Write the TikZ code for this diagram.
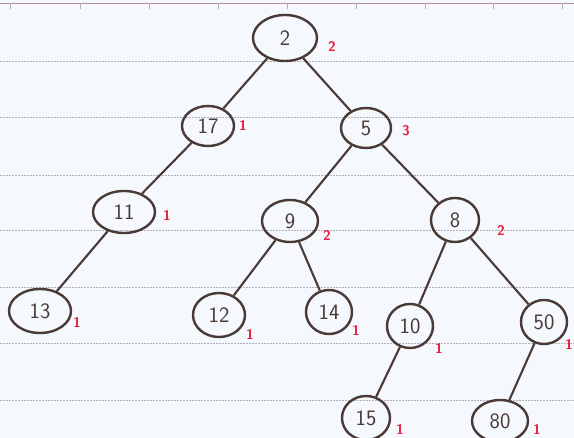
\documentclass[tikz,border=0pt]{standalone}
\usepackage{fontspec}
\usepackage{tikz}
\usetikzlibrary{shapes.geometric}
\definecolor{paper}{HTML}{F5F8FC}
\definecolor{rule}{HTML}{AEB2B8}
\definecolor{ink}{HTML}{4A3A36}
\definecolor{mark}{HTML}{E8203F}
\tikzset{
  vertex/.style={draw=ink,ellipse,line width=2.4pt,inner sep=0pt,text=ink,font=\fontsize{22}{25}\sffamily},
  count/.style={text=mark,font=\fontsize{14}{16}\sffamily\bfseries,inner sep=0pt},
  edge/.style={draw=ink,line width=2.1pt},
  ruling/.style={draw=rule,line width=0.6pt,dash pattern=on 2pt off 1pt}
}

\begin{document}
\begin{tikzpicture}[x=1pt,y=-1pt]
  \useasboundingbox (0,0) rectangle (574,438);
  \fill[paper] (0,0) rectangle (574,438);
  % ruled paper
  \draw[draw=rule!70!mark,line width=0.6pt] (0,3) -- (574,3);
  \foreach \x in {10,80,149,218,287,356,425,493,562}
    \draw[rule,line width=0.6pt] (\x,3) -- (\x,9);
  \foreach \y in {61,117,175,230,287,343,400}
    \draw[ruling] (0,\y) -- (574,\y);

  % tree nodes
  \node[vertex,minimum width=64pt,minimum height=46pt] (n2) at (285,38) {2};
  \node[vertex,minimum width=52pt,minimum height=40pt] (n17) at (208,126) {17};
  \node[vertex,minimum width=50pt,minimum height=40pt] (n5) at (366,128) {5};
  \node[vertex,minimum width=62pt,minimum height=42pt] (n11) at (124,212) {11};
  \node[vertex,minimum width=56pt,minimum height=42pt] (n9) at (290,221) {9};
  \node[vertex,minimum width=48pt,minimum height=44pt] (n8) at (455,220) {8};
  \node[vertex,minimum width=62pt,minimum height=44pt] (n13) at (40,311) {13};
  \node[vertex,minimum width=52pt,minimum height=44pt] (n12) at (219,315) {12};
  \node[vertex,minimum width=46pt,minimum height=44pt] (n14) at (329,312) {14};
  \node[vertex,minimum width=46pt,minimum height=44pt] (n10) at (410,326) {10};
  \node[vertex,minimum width=46pt,minimum height=44pt] (n50) at (544,322) {50};
  \node[vertex,minimum width=48pt,minimum height=44pt] (n15) at (366,418) {15};
  \node[vertex,minimum width=56pt,minimum height=42pt] (n80) at (500,421) {80};

  % heights
  \node[count] (h2) at (332,46) {2};
  \node[count] (h17) at (243,125) {1};
  \node[count] (h5) at (406,131) {3};
  \node[count] (h11) at (167,215) {1};
  \node[count] (h9) at (327,235) {2};
  \node[count] (h8) at (501,230) {2};
  \node[count] (h13) at (77,322) {1};
  \node[count] (h12) at (250,334) {1};
  \node[count] (h14) at (356,330) {1};
  \node[count] (h10) at (439,348) {1};
  \node[count] (h50) at (569,344) {1};
  \node[count] (h15) at (400,429) {1};
  \node[count] (h80) at (537,429) {1};

  % edges
  \draw[edge] (n2) -- (n17);
  \draw[edge] (n2) -- (n5);
  \draw[edge] (n17) -- (n11);
  \draw[edge] (n5) -- (n9);
  \draw[edge] (n5) -- (n8);
  \draw[edge] (n11) -- (n13);
  \draw[edge] (n9) -- (n12);
  \draw[edge] (n9) -- (n14);
  \draw[edge] (n8) -- (n10);
  \draw[edge] (n8) -- (n50);
  \draw[edge] (n10) -- (n15);
  \draw[edge] (n50) -- (n80);
\end{tikzpicture}
\end{document}
